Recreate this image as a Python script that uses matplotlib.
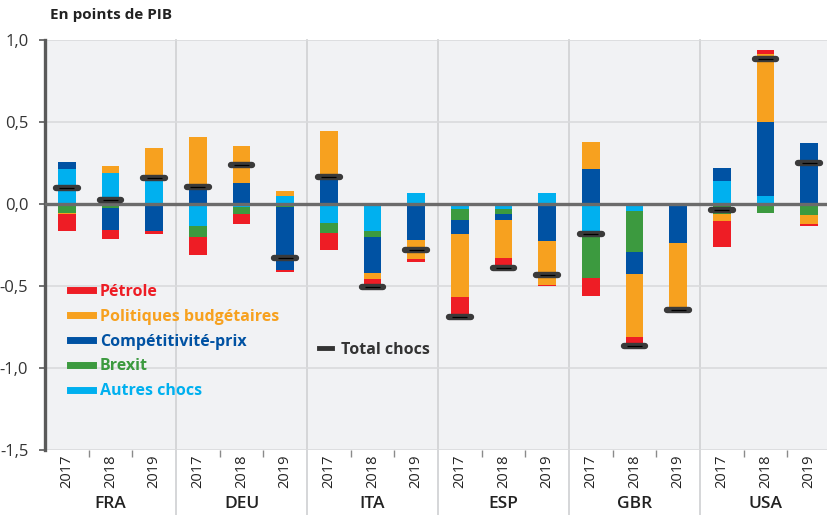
import matplotlib
matplotlib.use("Agg")
import matplotlib.pyplot as plt
import matplotlib.transforms as mtransforms
from matplotlib.lines import Line2D
import numpy as np

plt.rcParams['font.family'] = ['Open Sans', 'DejaVu Sans']

countries = ["FRA", "DEU", "ITA", "ESP", "GBR", "USA"]
years = ["2017", "2018", "2019"]

# order: FRA17..19, DEU17..19, ITA, ESP, GBR, USA
petrole = [-0.100, -0.055, -0.020, -0.108, -0.060, -0.014, -0.105, -0.037, -0.015,
           -0.106, -0.045, -0.010, -0.110, -0.050, 0.000, -0.155, 0.020, -0.012]
politiques = [-0.008, 0.047, 0.180, 0.295, 0.230, 0.030, 0.268, -0.040, -0.117,
              -0.390, -0.230, -0.268, 0.165, -0.384, -0.405, -0.045, 0.413, -0.055]
competitivite = [0.045, -0.133, -0.155, 0.115, 0.126, -0.380, 0.177, -0.218, -0.220,
                 -0.080, -0.040, -0.215, 0.211, -0.132, -0.240, 0.077, 0.453, 0.374]
brexit = [-0.055, -0.025, -0.010, -0.070, -0.040, -0.020, -0.060, -0.035, 0.000,
          -0.070, -0.030, -0.010, -0.280, -0.250, 0.000, -0.060, -0.057, -0.067]
autres = [0.213, 0.187, 0.160, -0.134, -0.020, 0.049, -0.114, -0.165, 0.070,
          -0.030, -0.030, 0.066, -0.170, -0.045, 0.000, 0.140, 0.050, 0.000]
total = [0.100, 0.024, 0.160, 0.105, 0.238, -0.331, 0.163, -0.504, -0.280,
         -0.687, -0.388, -0.433, -0.183, -0.866, -0.648, -0.035, 0.882, 0.248]

series = [
    ("Autres chocs", autres, "#00B0EF"),
    ("Brexit", brexit, "#3C9A3F"),
    ("Compétitivité-prix", competitivite, "#0052A3"),
    ("Politiques budgétaires", politiques, "#F7A11F"),
    ("Pétrole", petrole, "#EE1D25"),
]
legend_order = ["Pétrole", "Politiques budgétaires", "Compétitivité-prix", "Brexit", "Autres chocs"]

fig = plt.figure(figsize=(8.27, 5.15), dpi=100)
ax = fig.add_axes([45/827, 1-450/515, 786/827, 410/515])
ax.set_facecolor("#F1F2F4")

n = len(countries) * len(years)
x = np.arange(n)
pos_b = np.zeros(n)
neg_b = np.zeros(n)
bw = 0.4
for name, vals, col in series:
    v = np.array(vals)
    b = np.where(v >= 0, pos_b, neg_b)
    ax.bar(x, v, bw, bottom=b, color=col, zorder=3, linewidth=0)
    pos_b += np.where(v >= 0, v, 0)
    neg_b += np.where(v < 0, v, 0)

ax.set_xlim(-0.5, n - 0.5)
ax.set_ylim(-1.5, 1.0)
ax.set_yticks([1.0, 0.5, 0.0, -0.5, -1.0, -1.5])
ax.set_yticklabels(["1,0", "0,5", "0,0", "-0,5", "-1,0", "-1,5"])
ax.grid(axis='y', color="#D9DADC", lw=1.2, zorder=1)
ax.axhline(0, color="#6B6B6B", lw=2.4, zorder=4)

# group separators (extend below the axis)
trans = mtransforms.blended_transform_factory(ax.transData, ax.transAxes)
for k in range(1, len(countries)):
    xs = k * len(years) - 0.5
    ax.plot([xs, xs], [1, -0.16], transform=trans, color="#D2D3D5", lw=1.3,
            clip_on=False, zorder=1)

# totals
xt = x
ax.hlines(total, xt - 0.25, xt + 0.25, color="#3A3A3A", lw=4.6, zorder=5, capstyle='round')
ax.hlines(total, xt - 0.17, xt + 0.17, color="#000000", lw=0.9, zorder=6)

for s in ["top", "right", "bottom"]:
    ax.spines[s].set_visible(False)
ax.spines["left"].set_color("#5A5A5A")
ax.spines["left"].set_linewidth(2.4)
ax.tick_params(axis='y', length=4, width=1.2, color="#5A5A5A", labelsize=12,
               labelcolor="#333333", pad=8)

ax.set_xticks(x)
ax.set_xticklabels(years * len(countries), rotation=90, fontsize=10.5, color="#222222")
ax.tick_params(axis='x', length=0, pad=3)
inner = [g * 3 + j + 0.5 for g in range(len(countries)) for j in range(2)]
ax.set_xticks(inner, minor=True)
ax.tick_params(axis='x', which='minor', length=5, width=1.0, color="#8A8A8A")

for g, c in enumerate(countries):
    ax.text(g * 3 + 1, -0.132, c, transform=trans, ha='center', va='center',
            fontsize=12.5, color="#222222", fontweight='semibold')

fig.text(50/827, 1-15/515, "En points de PIB", fontsize=11, fontweight='bold',
         color="#222222", va='center', ha='left')

cols = {name: col for name, _, col in series}
handles = [Line2D([0], [0], color=cols[nm], lw=5) for nm in legend_order]
leg = ax.legend(handles, legend_order, loc='upper left', bbox_to_anchor=(0.014, 0.44),
                frameon=False, handlelength=1.4, handletextpad=0.45, labelspacing=0.55,
                prop={'size': 11.5, 'weight': 'bold'})
for t, nm in zip(leg.get_texts(), legend_order):
    t.set_color(cols[nm])
ax.add_artist(leg)
h2 = [Line2D([0], [0], color="#333333", lw=3.5)]
leg2 = ax.legend(h2, ["Total chocs"], loc='center left', bbox_to_anchor=(0.33, 0.245),
                 frameon=False, handlelength=0.8, handletextpad=0.6,
                 prop={'size': 11.5, 'weight': 'bold'})
leg2.get_texts()[0].set_color("#333333")

fig.savefig("out.png", dpi=100, facecolor="white")
